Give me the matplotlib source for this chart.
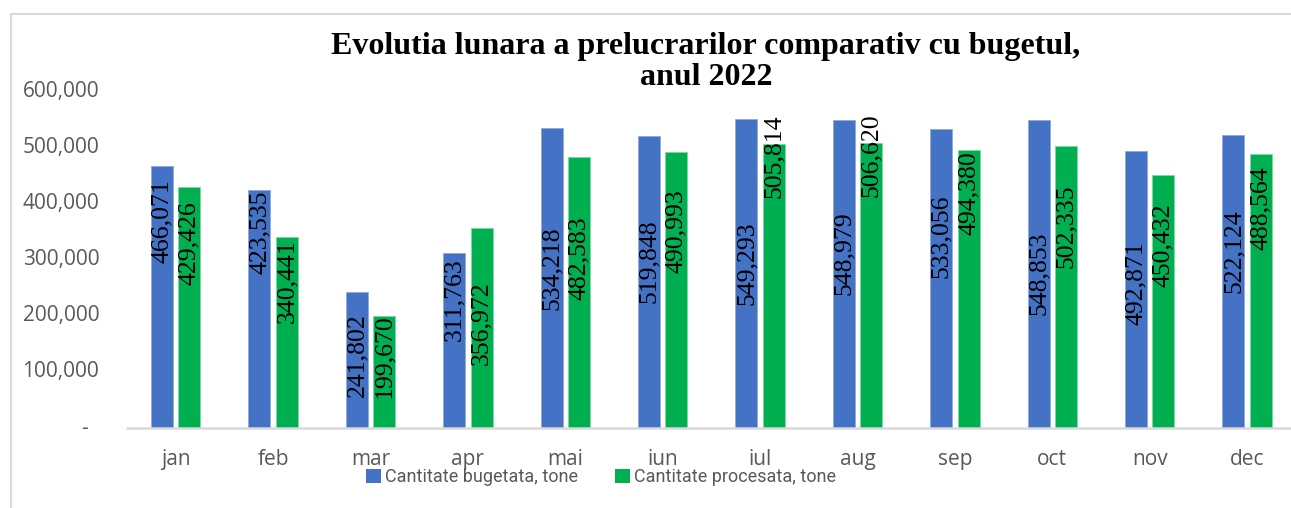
import matplotlib
matplotlib.use("Agg")
import matplotlib.pyplot as plt
from matplotlib.lines import Line2D
from matplotlib.patches import Patch
import numpy as np

months = ["jan", "feb", "mar", "apr", "mai", "iun", "iul", "aug", "sep", "oct", "nov", "dec"]
budget = [466071, 423535, 241802, 311763, 534218, 519848, 549293, 548979, 533056, 548853, 492871, 522124]
processed = [429426, 340441, 199670, 356972, 482583, 490993, 505814, 506620, 494380, 502335, 450432, 488564]
series_names = ["Cantitate bugetata, tone", "Cantitate procesata, tone"]
yticks = [0, 100000, 200000, 300000, 400000, 500000, 600000]
ytick_labels = ["-  ", "100,000", "200,000", "300,000", "400,000", "500,000", "600,000"]
title = "Evolutia lunara a prelucrarilor comparativ cu bugetul,\nanul 2022"

# where the (manually placed) value labels end
label_top_budget = [443000, 423000, 205000, 302000, 359000, 372000, 368000, 386000, 416000, 350000, 333000, 390000]
label_top_processed = [404000, 336000, 203000, 261000, 377000, 425000, 559000, 560000, 493000, 434000, 400000, 466000]

BLUE = "#4472C4"
GREEN = "#00B050"
GRAY = "#595959"

W, H = 1291, 508
fig = plt.figure(figsize=(W / 100, H / 100), dpi=100)

# outer chart border (top and left visible)
fig.add_artist(Line2D([11 / W, 11 / W], [0, 1 - 14 / H], color="#d9d9d9", lw=1.5))
fig.add_artist(Line2D([11 / W, 1], [1 - 14 / H, 1 - 14 / H], color="#d9d9d9", lw=1.5))

left_px, right_px = 127, 1291
bottom_px, top_px = 428, 91
ax = fig.add_axes([left_px / W, 1 - bottom_px / H, (right_px - left_px) / W, (bottom_px - top_px) / H])

x = np.arange(len(months))
bw = 0.226
off = 0.14
ax.bar(x - off, budget, width=bw, color=BLUE, edgecolor="#8eaadb", linewidth=0.6, zorder=2)
ax.bar(x + off, processed, width=bw, color=GREEN, edgecolor="#7fd8a7", linewidth=0.6, zorder=2)

lab_font = dict(family="Liberation Serif", size=18.5, color="black")
for i in range(len(months)):
    ax.text(x[i] - off, label_top_budget[i], f"{budget[i]:,}", rotation=90,
            ha="center", va="top", zorder=3, **lab_font)
    ax.text(x[i] + off, label_top_processed[i], f"{processed[i]:,}", rotation=90,
            ha="center", va="top", zorder=3, **lab_font)

ax.set_xlim(-0.5, -0.5 + (right_px - left_px) / 97.4)
ax.set_ylim(0, 600000)
ax.set_yticks(yticks)
ax.set_yticklabels(ytick_labels, family="Open Sans", fontsize=15, color=GRAY)
ax.set_xticks(x)
ax.set_xticklabels(months, family="Open Sans", fontsize=15, color=GRAY)
ax.tick_params(axis="y", length=0, pad=20)
ax.tick_params(axis="x", length=0, pad=15)
for s in ["top", "right", "left"]:
    ax.spines[s].set_visible(False)
ax.spines["bottom"].set_color("#d9d9d9")
ax.spines["bottom"].set_linewidth(1.8)
ax.patch.set_alpha(0)
for lbl in ax.get_yticklabels():
    lbl.set_verticalalignment("center")

fig.text(706 / W, 1 - 62 / H, title, ha="center", va="center", family="Liberation Serif",
         weight="bold", fontsize=23, linespacing=1.08)

handles = [Patch(facecolor=BLUE, label=series_names[0]), Patch(facecolor=GREEN, label=series_names[1])]
leg = fig.legend(handles=handles, loc="center", bbox_to_anchor=(601 / W, 1 - 477 / H), ncol=2,
                 frameon=False, prop=dict(family="Roboto", size=13), handlelength=0.85,
                 handleheight=0.85, handletextpad=0.25, columnspacing=2.0, borderpad=0)
for t in leg.get_texts():
    t.set_color(GRAY)

fig.savefig("out.png", dpi=100)
